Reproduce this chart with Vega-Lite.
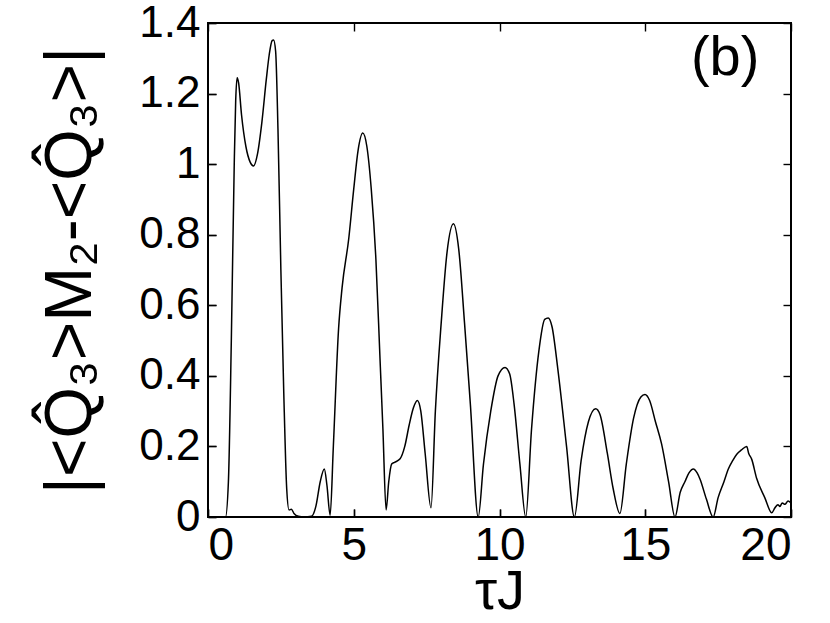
{
  "$schema": "https://vega.github.io/schema/vega-lite/v6.json",
  "autosize": "none",
  "width": 583,
  "height": 494,
  "padding": {"left": 208, "top": 23, "right": 39, "bottom": 106},
  "background": "white",
  "config": {
    "font": "Liberation Sans",
    "view": {"stroke": "black", "strokeWidth": 2},
    "axis": {"grid": false, "domain": false, "ticks": true, "tickColor": "black", "tickWidth": 1.4, "tickSize": 8, "offset": -8, "labelColor": "black", "titleColor": "black", "labelFont": "Liberation Sans", "titleFont": "Liberation Sans", "labelFontSize": 46, "titleFontSize": 56, "titleFontWeight": "normal", "format": "~g"}
  },
  "datasets": {
    "curve": [
      {"t": 0, "v": 0}, {"t": 0.3, "v": 0}, {"t": 0.6, "v": 0}, {"t": 0.7, "v": 0.1}, {"t": 0.8, "v": 0.5}, {"t": 0.9, "v": 1.0}, {"t": 0.95, "v": 1.18}, {"t": 1.0, "v": 1.245}, {"t": 1.05, "v": 1.23}, {"t": 1.15, "v": 1.14}, {"t": 1.3, "v": 1.05}, {"t": 1.45, "v": 1.005}, {"t": 1.56, "v": 0.995}, {"t": 1.7, "v": 1.03}, {"t": 1.85, "v": 1.12}, {"t": 2.0, "v": 1.24}, {"t": 2.1, "v": 1.31}, {"t": 2.2, "v": 1.35}, {"t": 2.25, "v": 1.352}, {"t": 2.32, "v": 1.32}, {"t": 2.4, "v": 1.1}, {"t": 2.5, "v": 0.7}, {"t": 2.6, "v": 0.35}, {"t": 2.7, "v": 0.08}, {"t": 2.78, "v": 0.02}, {"t": 2.86, "v": 0.022}, {"t": 2.95, "v": 0.01}, {"t": 3.1, "v": 0.002}, {"t": 3.3, "v": 0}, {"t": 3.55, "v": 0.002}, {"t": 3.7, "v": 0.03}, {"t": 3.85, "v": 0.1}, {"t": 3.99, "v": 0.136}, {"t": 4.08, "v": 0.09}, {"t": 4.19, "v": 0.005}, {"t": 4.3, "v": 0.2}, {"t": 4.48, "v": 0.534}, {"t": 4.6, "v": 0.65}, {"t": 4.83, "v": 0.79}, {"t": 5.0, "v": 0.93}, {"t": 5.15, "v": 1.04}, {"t": 5.31, "v": 1.088}, {"t": 5.45, "v": 1.05}, {"t": 5.6, "v": 0.93}, {"t": 5.76, "v": 0.73}, {"t": 5.9, "v": 0.45}, {"t": 6.0, "v": 0.25}, {"t": 6.11, "v": 0.02}, {"t": 6.2, "v": 0.1}, {"t": 6.3, "v": 0.15}, {"t": 6.4, "v": 0.155}, {"t": 6.59, "v": 0.165}, {"t": 6.75, "v": 0.2}, {"t": 6.9, "v": 0.26}, {"t": 7.05, "v": 0.31}, {"t": 7.18, "v": 0.33}, {"t": 7.3, "v": 0.3}, {"t": 7.45, "v": 0.18}, {"t": 7.65, "v": 0.026}, {"t": 7.8, "v": 0.3}, {"t": 8.0, "v": 0.55}, {"t": 8.2, "v": 0.75}, {"t": 8.42, "v": 0.831}, {"t": 8.6, "v": 0.76}, {"t": 8.8, "v": 0.55}, {"t": 9.0, "v": 0.32}, {"t": 9.27, "v": 0.0}, {"t": 9.45, "v": 0.15}, {"t": 9.7, "v": 0.3}, {"t": 9.95, "v": 0.4}, {"t": 10.19, "v": 0.424}, {"t": 10.35, "v": 0.405}, {"t": 10.5, "v": 0.32}, {"t": 10.7, "v": 0.15}, {"t": 10.9, "v": 0.0}, {"t": 11.1, "v": 0.25}, {"t": 11.35, "v": 0.47}, {"t": 11.55, "v": 0.56}, {"t": 11.67, "v": 0.564}, {"t": 11.8, "v": 0.54}, {"t": 12.0, "v": 0.42}, {"t": 12.3, "v": 0.2}, {"t": 12.57, "v": 0.0}, {"t": 12.8, "v": 0.16}, {"t": 13.05, "v": 0.27}, {"t": 13.3, "v": 0.307}, {"t": 13.45, "v": 0.29}, {"t": 13.7, "v": 0.18}, {"t": 13.9, "v": 0.08}, {"t": 14.13, "v": 0.01}, {"t": 14.35, "v": 0.15}, {"t": 14.6, "v": 0.28}, {"t": 14.85, "v": 0.34}, {"t": 14.99, "v": 0.347}, {"t": 15.15, "v": 0.33}, {"t": 15.35, "v": 0.27}, {"t": 15.56, "v": 0.207}, {"t": 15.8, "v": 0.1}, {"t": 16.02, "v": 0.0}, {"t": 16.2, "v": 0.07}, {"t": 16.36, "v": 0.1}, {"t": 16.5, "v": 0.125}, {"t": 16.65, "v": 0.136}, {"t": 16.78, "v": 0.125}, {"t": 16.88, "v": 0.107}, {"t": 17.1, "v": 0.05}, {"t": 17.33, "v": 0.0}, {"t": 17.5, "v": 0.055}, {"t": 17.7, "v": 0.1}, {"t": 17.85, "v": 0.136}, {"t": 18.0, "v": 0.16}, {"t": 18.14, "v": 0.178}, {"t": 18.3, "v": 0.19}, {"t": 18.48, "v": 0.2}, {"t": 18.55, "v": 0.18}, {"t": 18.65, "v": 0.164}, {"t": 18.82, "v": 0.11}, {"t": 19.1, "v": 0.055}, {"t": 19.34, "v": 0.012}, {"t": 19.45, "v": 0.026}, {"t": 19.55, "v": 0.035}, {"t": 19.62, "v": 0.03}, {"t": 19.7, "v": 0.04}, {"t": 19.79, "v": 0.036}, {"t": 19.9, "v": 0.045}, {"t": 20, "v": 0.04}
    ],
    "label": [{"t": 17.74, "v": 1.3, "txt": "(b)"}]
  },
  "layer": [
    {
      "data": {"name": "label"},
      "mark": {"type": "text", "fontSize": 56, "color": "black", "font": "Liberation Sans", "baseline": "middle", "align": "center"},
      "encoding": {
        "x": {"field": "t", "type": "quantitative", "scale": {"domain": [0, 20], "nice": false}, "axis": {"orient": "top", "values": [0, 5, 10, 15, 20], "labels": false, "title": null}},
        "y": {"field": "v", "type": "quantitative", "scale": {"domain": [0, 1.4], "nice": false}, "axis": {"orient": "right", "values": [0, 0.2, 0.4, 0.6, 0.8, 1, 1.2, 1.4], "labels": false, "title": null}},
        "text": {"field": "txt"}
      }
    },
    {
      "data": {"name": "curve"},
      "mark": {"type": "line", "color": "black", "strokeWidth": 1.5, "interpolate": "monotone", "clip": true},
      "encoding": {
        "x": {"field": "t", "type": "quantitative", "scale": {"domain": [0, 20], "nice": false}, "axis": {"orient": "bottom", "values": [0, 5, 10, 15, 20], "title": "τJ", "labelPadding": 6, "titlePadding": -4, "titleFontSize": 56}},
        "y": {"field": "v", "type": "quantitative", "scale": {"domain": [0, 1.4], "nice": false}, "axis": {"orient": "left", "values": [0, 0.2, 0.4, 0.6, 0.8, 1, 1.2, 1.4], "title": "|<Q̂₃>M₂-<Q̂₃>|", "labelPadding": 8, "labelFontSize": 44, "titlePadding": 34, "titleFontSize": 66}}
      }
    },
    {
      "data": {"name": "label"},
      "mark": {"type": "point", "opacity": 0},
      "encoding": {
        "x": {"field": "t", "type": "quantitative", "scale": {"domain": [0, 20], "nice": false}, "axis": {"orient": "bottom", "values": [0, 5, 10, 15, 20], "labels": false, "title": null}},
        "y": {"field": "v", "type": "quantitative", "scale": {"domain": [0, 1.4], "nice": false}, "axis": {"orient": "left", "values": [0, 0.2, 0.4, 0.6, 0.8, 1, 1.2, 1.4], "labels": false, "title": null}}
      }
    }
  ],
  "resolve": {"axis": {"x": "independent", "y": "independent"}}
}
